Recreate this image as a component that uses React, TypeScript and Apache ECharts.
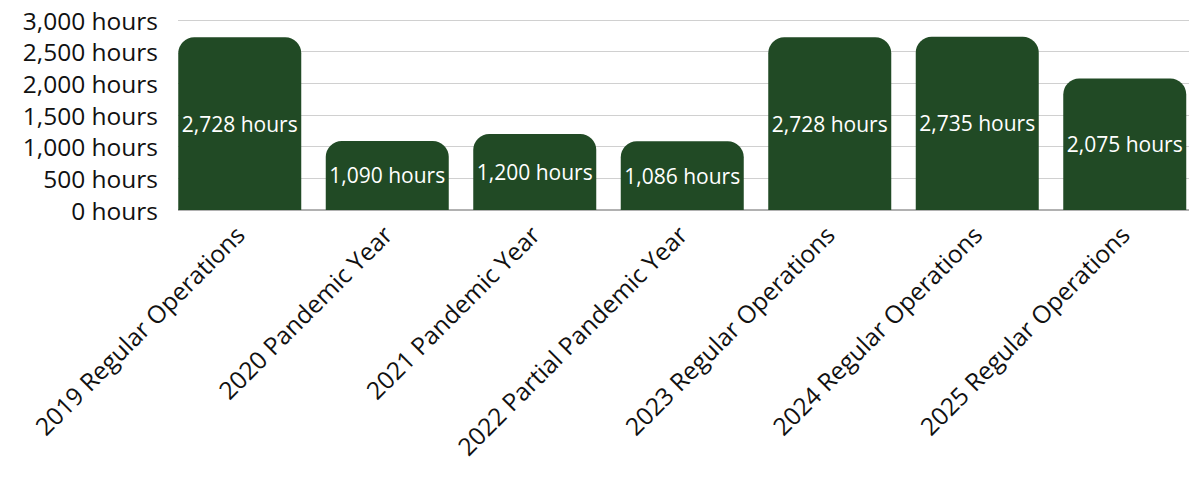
import React, { useEffect, useRef } from "react";
import * as echarts from "echarts";

const categories = [
  "2019 Regular Operations",
  "2020 Pandemic Year",
  "2021 Pandemic Year",
  "2022 Partial Pandemic Year",
  "2023 Regular Operations",
  "2024 Regular Operations",
  "2025 Regular Operations",
];
const hours = [2728, 1090, 1200, 1086, 2728, 2735, 2075];
const yTicks = { min: 0, max: 3000, interval: 500 };

const FONT = "Open Sans";
const fmt = (v: number) => v.toLocaleString("en-US") + " hours";

export default function App() {
  const ref = useRef<HTMLDivElement>(null);
  useEffect(() => {
    document.body.style.margin = "0";
    const chart = echarts.init(ref.current!, undefined, { renderer: "svg" });
    chart.setOption({
      animation: false,
      textStyle: { fontFamily: FONT },
      grid: [
        { left: 178, width: 1011, top: 20, height: 190 },
        { left: 166, width: 1032.5, top: 20, height: 190 },
      ],
      xAxis: [
        { type: "value", gridIndex: 0, show: false, min: 0, max: 1 },
        {
          type: "category",
          gridIndex: 1,
          data: categories,
          axisLine: { show: false },
          axisTick: { show: false },
          axisLabel: {
            rotate: 45,
            interval: 0,
            margin: 20,
            fontSize: 24.5,
            color: "#111",
            fontFamily: FONT,
          },
        },
      ],
      yAxis: [
        {
          type: "value",
          gridIndex: 0,
          ...yTicks,
          axisLine: { show: false },
          axisTick: { show: false },
          splitLine: { show: true, lineStyle: { color: "#d0d0d0", width: 1 } },
          axisLabel: {
            formatter: (v: number) => fmt(v),
            fontSize: 24.5,
            lineHeight: 25,
            color: "#111",
            margin: 20,
            fontFamily: FONT,
          },
        },
        {
          type: "value",
          gridIndex: 1,
          ...yTicks,
          show: false,
        },
      ],
      series: [
        {
          type: "line",
          xAxisIndex: 0,
          yAxisIndex: 0,
          data: [
            [0, 0],
            [1, 0],
          ],
          symbol: "none",
          lineStyle: { color: "#999", width: 1.5 },
          silent: true,
          z: 1,
        },
        {
          type: "bar",
          xAxisIndex: 1,
          yAxisIndex: 1,
          data: hours,
          barWidth: 123,
          itemStyle: { color: "#214a25", borderRadius: [16, 16, 0, 0] },
          label: {
            show: true,
            position: "inside",
            color: "#ffffff",
            fontSize: 21,
            fontFamily: FONT,
            formatter: (p: any) => fmt(p.value),
          },
          z: 2,
        },
      ],
    });
    return () => chart.dispose();
  }, []);
  return (
    <div style={{ width: 1189, height: 479, overflow: "hidden" }}>
      <div ref={ref} style={{ width: 1210, height: 479 }} />
    </div>
  );
}
